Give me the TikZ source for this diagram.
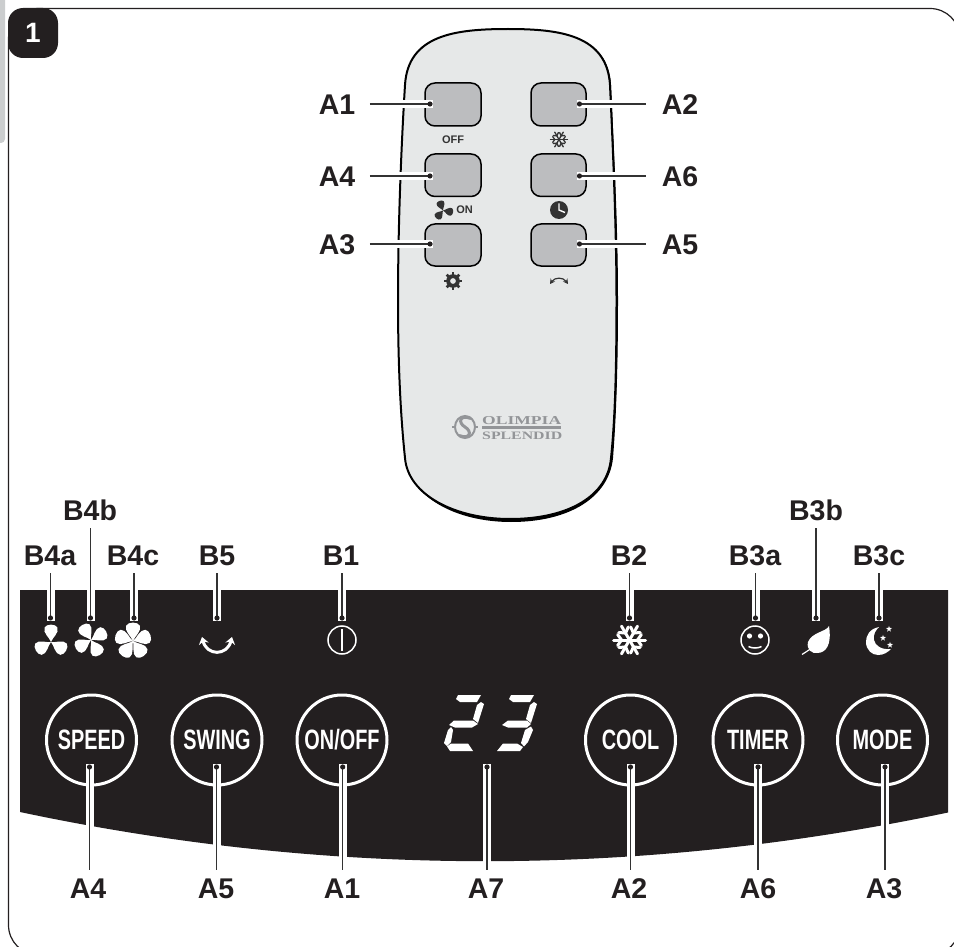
\documentclass[tikz,border=0pt]{standalone}
\usepackage{fontspec}
\usepackage{graphicx}
\setmainfont{Liberation Sans}
\newfontfamily\logofont{Liberation Serif}
\usetikzlibrary{arrows.meta}
\definecolor{ink}{HTML}{231F20}
\definecolor{bodygray}{HTML}{E6E8E8}
\definecolor{keygray}{HTML}{BCBDBF}
\definecolor{tabgray}{HTML}{CBCDCE}
\definecolor{logogray}{HTML}{939598}
\definecolor{smallink}{HTML}{333333}
\tikzset{
  lbl/.style={font=\fontsize{28.5}{30}\selectfont\bfseries,text=ink,text height=20.5pt,text depth=0pt,inner xsep=0pt,inner ysep=8pt},
  lblL/.style={lbl,inner xsep=14.5pt,inner ysep=0pt},
  lblR/.style={lbl,inner xsep=16pt,inner ysep=0pt},
  halo/.style={draw=white,line width=8pt,shorten >=-3pt},
  leadr/.style={draw=smallink,line width=1.3pt},
  leaddot/.style={fill=ink},
  roundkey/.style={circle,draw=white,line width=3pt,minimum size=90pt,inner sep=0pt,text=white,font=\fontsize{28}{29}\selectfont\bfseries},
  remotekey/.style={fill=keygray,draw=black,line width=1.5pt,rounded corners=10pt},
  small/.style={text=smallink,inner sep=0pt,font=\fontsize{11}{12}\selectfont\bfseries},
}
\newcommand{\condtxt}[1]{\scalebox{.71}[1]{#1}}
\newcommand{\leadline}[2]{%
  \draw[halo] (#1) -- (#2);
  \draw[leadr] (#1) -- (#2);
  \fill[leaddot] (#2) circle (2.6);}
\newcommand{\fanico}[6]{%
  \foreach \k in {1,...,#4}{%
    \begin{scope}[shift={(#1,#2)},rotate=\k*360/#4+#5,scale=#3]
      \fill[#6] (0,0) .. controls (-.08,-.25) and (-.5,-.55) .. (-.38,-.85) .. controls (-.28,-1.08) and (.28,-1.08) .. (.38,-.85) .. controls (.5,-.55) and (.08,-.25) .. (0,0);
    \end{scope}}}
\newcommand{\flakeico}[5]{%
  \begin{scope}[shift={(#1,#2)},scale=#3,line cap=round]
    \foreach \a in {0,60,...,300}{%
      \draw[#5,line width=#4pt] (0,0) -- (\a:1);
      \draw[#5,line width=#4pt] (\a:.5) -- ++(\a+55:.42);
      \draw[#5,line width=#4pt] (\a:.5) -- ++(\a-55:.42);}
  \end{scope}}
\newcommand{\starico}[3]{%
  \fill[white,shift={(#1,#2)},scale=#3] (-90:1) -- (-54:.4) -- (-18:1) -- (18:.4) -- (54:1) -- (90:.4) -- (126:1) -- (162:.4) -- (198:1) -- (234:.4) -- cycle;}
\begin{document}
\begin{tikzpicture}[x=1pt,y=-1pt]
\useasboundingbox (0,0) rectangle (954,947);
\clip (0,0) rectangle (954,947);
\fill[white] (0,0) rectangle (954,947);
% side tab and frame
\fill[tabgray,rounded corners=4pt] (-10,-10) rectangle (5,143);
\draw[ink,line width=1.2pt,rounded corners=30pt] (8.5,8.5) rectangle (960,955);
\node[fill=ink,rounded corners=15pt,minimum size=50pt,inner sep=0pt,text=white,font=\fontsize{28}{30}\selectfont\bfseries] (badge) at (33,33) {1};
% panel
\fill[ink] (20,590) -- (948,590) -- (948,812.5) .. controls (639,877.5) and (329,877.5) .. (20,812) -- cycle;
% remote body
\fill[black] (509,29.5) .. controls (561,29.5) and (608,35) .. (611,85) .. controls (614,150) and (618,230) .. (618,300) .. controls (618,370) and (616,420) .. (613,458) .. controls (609,497) and (570,522) .. (511,522) .. controls (456,522) and (409,497) .. (406,458) .. controls (402,420) and (399,370) .. (399,300) .. controls (399,230) and (402,150) .. (406,85) .. controls (409,35) and (456,29.5) .. (509,29.5) -- cycle;
\filldraw[fill=bodygray,draw=black,line width=2pt] (508,29) .. controls (560,29) and (607,35) .. (610,85) .. controls (613,150) and (616.5,230) .. (616.5,300) .. controls (616.5,370) and (615,420) .. (611,458) .. controls (608,495) and (570,519) .. (510,519) .. controls (455,519) and (408,495) .. (405,458) .. controls (401,420) and (398,370) .. (398,300) .. controls (398,230) and (401,150) .. (405,85) .. controls (408,35) and (455,29) .. (508,29) -- cycle;
% remote keys
\foreach \xa/\xb in {425/481,531/586}{
  \draw[remotekey] (\xa,83) rectangle (\xb,126);
  \draw[remotekey] (\xa,154) rectangle (\xb,196.5);
  \draw[remotekey] (\xa,224) rectangle (\xb,266);}
% remote small legends
\node[small] (toff) at (453,140) {OFF};
\node[small] (ton) at (464.5,210) {ON};
\flakeico{559}{139.5}{8.5}{1.3}{smallink}
\fanico{443}{210.5}{10}{3}{20}{smallink}
\fill[smallink] (559,210) circle (9);
\draw[white,line width=1.4pt] (559,203.5) -- (559,210) -- (565,212.5);
% gear
\fill[smallink,even odd rule] (453,281) circle (6.8) (453,281) circle (3);
\foreach \a in {0,45,...,315}{\draw[smallink,line width=2.8pt] (453,281) ++(\a:5.5) -- ++(\a:3.5);}
\draw[smallink,line width=1.2pt,{Stealth[length=5pt,width=5.5pt]}-{Stealth[length=5pt,width=5.5pt]}] (550,284) .. controls (555,277) and (563,277) .. (568,284);
% logo
\draw[logogray,line width=2pt] (465,427) ellipse (10 and 11);
\draw[logogray,line width=3pt] (471,418.5) .. controls (459,414) and (458,423) .. (465,427) .. controls (472,431) and (471,440) .. (459,435.5);
\draw[logogray,line width=1.2pt] (452,427) -- (455,427) (475,427) -- (478,427);
\node[inner sep=0pt,text=logogray,anchor=west] (logoa) at (482,421) {\resizebox{79pt}{8pt}{\logofont\bfseries OLIMPIA}};
\fill[logogray] (482,426) rectangle (561,428.5);
\node[inner sep=0pt,text=logogray,anchor=west] (logob) at (482,435.5) {\resizebox{80pt}{7.5pt}{\logofont\bfseries SPLENDID}};
% round keys
\node[roundkey] (kspeed) at (91.5,740) {\condtxt{SPEED}};
\node[roundkey] (kswing) at (217,740) {\condtxt{SWING}};
\node[roundkey] (konoff) at (342,740) {\condtxt{ON/OFF}};
\node[roundkey] (kcool) at (630.5,740) {\condtxt{COOL}};
\node[roundkey] (ktimer) at (758,740) {\condtxt{TIMER}};
\node[roundkey] (kmode) at (882.5,740) {\condtxt{MODE}};
% seven-segment 2
\fill[white] (458,695) -- (481,695) -- (477,702) -- (460,702) -- (456,699) -- cycle;
\fill[white] (481,702) -- (484,704) -- (478,723) -- (473,719) -- (477,705) -- cycle;
\fill[white] (449,725) -- (454,720.5) -- (473,720.5) -- (478,724) -- (472,727.5) -- (455,727.5) -- cycle;
\fill[white] (451,727) -- (453,730) -- (451,742) -- (447,746) -- (444,743) -- (448,730) -- cycle;
\fill[white] (447,746.5) -- (451,743.5) -- (468,743.5) -- (473,751) -- (450,751) -- cycle;
% seven-segment 3
\fill[white] (511,695) -- (534,695) -- (530,702) -- (513,702) -- (509,699) -- cycle;
\fill[white] (534,702) -- (537,704) -- (531,723) -- (526,719) -- (530,705) -- cycle;
\fill[white] (502,725) -- (508,720.5) -- (527,720.5) -- (531,724) -- (527,727.5) -- (508,727.5) -- cycle;
\fill[white] (531,726.5) -- (533,730) -- (528,742) -- (524,746.5) -- (521,743) -- (525,730) -- cycle;
\fill[white] (497,751) -- (503,743.5) -- (517,743.5) -- (523,747) -- (520,751) -- cycle;
% panel icons
\fanico{51}{642}{17}{3}{0}{white}
\fanico{91}{640}{17}{4}{30}{white}
\fanico{133}{641}{18}{5}{0}{white}
\draw[white,line width=3pt,{Stealth[length=7pt,width=10pt]}-{Stealth[length=7pt,width=10pt]}] (202,637) .. controls (207,656) and (227,656) .. (232,637);
\draw[white,line width=1.5pt] (342,640) circle (14);
\draw[white,line width=1.5pt] (342,629) -- (342,651);
\flakeico{629.5}{640}{16}{3}{white}
\draw[white,line width=1.5pt] (755,640) circle (14);
\fill[white] (749.5,636) circle (2.6) (760.5,636) circle (2.6);
\draw[white,line width=1.5pt] (748.5,646.5) .. controls (752,648.5) and (758,648.5) .. (761.5,646.5);
\fill[white] (829,626) .. controls (826,632) and (812,632) .. (808,642) .. controls (806,650) and (813,654) .. (817,653) .. controls (826,653) and (832,645) .. (829,626) -- cycle;
\draw[white,line width=1.2pt] (802,654.5) -- (812,648);
\fill[white] (879,627) .. controls (869,629) and (866,636) .. (866,642) .. controls (866,650) and (872,655) .. (878,655) .. controls (884,655) and (888,652) .. (891,649) .. controls (882,650) and (875,646) .. (874,640) .. controls (873,634) and (876,630) .. (879,627) -- cycle;
\starico{889}{629}{3.2}
\starico{883}{638}{3.2}
\starico{890}{645}{3.2}
% top labels with leaders
\foreach \n/\t/\lx/\ly/\dx in {bAa/B4a/50/555/50.5, bAb/B4b/90/510/90.5, bAc/B4c/133/555/134, bAd/B5/217/555/217, bAe/B1/341/555/342, bAf/B2/629/555/629.5, bAg/B3a/755/555/755.5, bAh/B3b/816/510/816, bAi/B3c/879/555/879}{
  \node[lbl] (\n) at (\lx,\ly) {\t};
  \coordinate (d\n) at (\dx,618);
  \leadline{\n.south -| d\n}{d\n}
}
% bottom labels with leaders
\foreach \n/\t/\lx/\dx in {cAa/A4/88/89.5, cAb/A5/216/216.5, cAc/A1/342/342.7, cAd/A7/486/487, cAe/A2/629/630.5, cAf/A6/758/758, cAg/A3/884/885}{
  \node[lbl] (\n) at (\lx,888) {\t};
  \coordinate (d\n) at (\dx,767);
  \leadline{\n.north -| d\n}{d\n}
}
% remote labels with leaders
\foreach \n/\t/\y in {lAa/A1/104, lAb/A4/176, lAc/A3/244}{
  \node[lblL] (\n) at (337,\y) {\t};
  \coordinate (d\n) at (430,\y);
  \leadline{\n.east |- d\n}{d\n}
}
\foreach \n/\t/\y in {rAa/A2/104, rAb/A6/176, rAc/A5/244}{
  \node[lblR] (\n) at (680,\y) {\t};
  \coordinate (d\n) at (579.5,\y);
  \leadline{\n.west |- d\n}{d\n}
}
\end{tikzpicture}
\end{document}
